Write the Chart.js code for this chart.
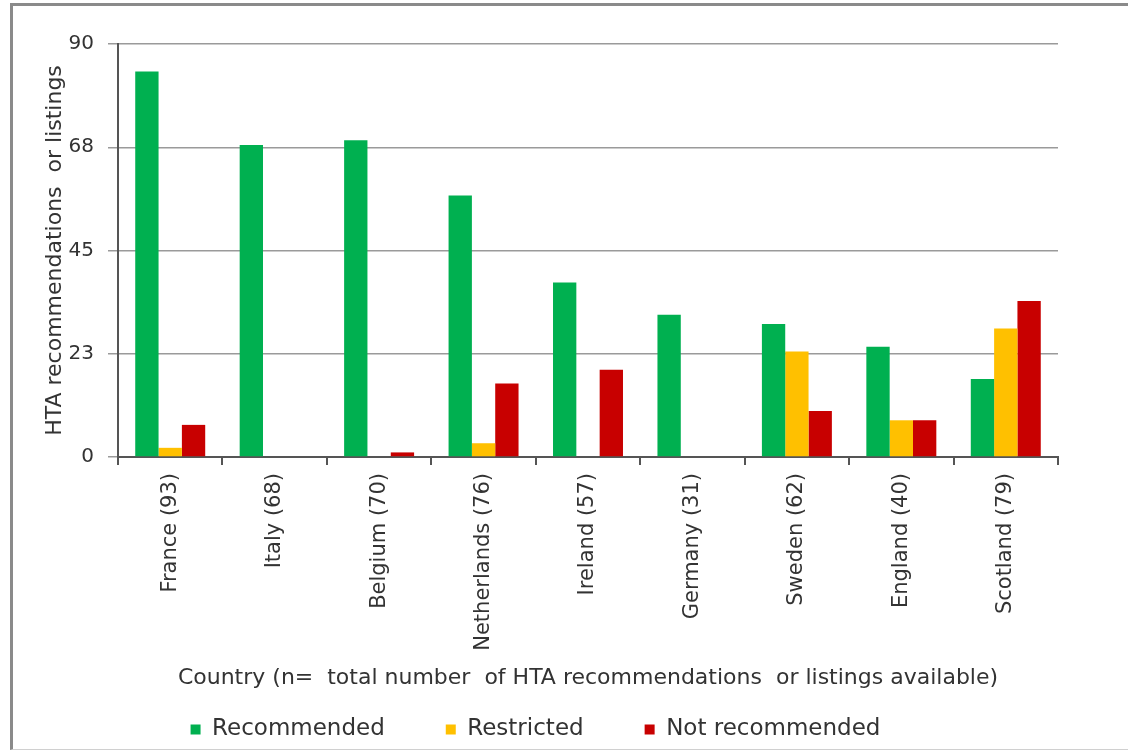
<!DOCTYPE html>
<html>
<head>
<meta charset="utf-8">
<script src="https://cdn.jsdelivr.net/npm/chart.js@4"></script>
<style>
  body { margin: 0; background: #fff; overflow: hidden; }
  #frame {
    position: absolute; left: 10px; top: 3px;
    width: 1118px; height: 743px;
    border-top: 3px solid #8a8a8a; border-left: 3px solid #8a8a8a;
    border-bottom: 1px solid #d0d0d0; background: #fff;
  }
</style>
</head>
<body>
<div id="frame"><canvas id="chart" width="1115" height="743"></canvas></div>
<script>
// Data
const countries = ['France (93)', 'Italy (68)', 'Belgium (70)', 'Netherlands (76)', 'Ireland (57)',
                   'Germany (31)', 'Sweden (62)', 'England (40)', 'Scotland (79)'];
const recommended = [84, 68, 69, 57, 38, 31, 29, 24, 17];
const restricted = [2, 0, 0, 3, 0, 0, 23, 8, 28];
const notRecommended = [7, 0, 1, 16, 19, 0, 10, 8, 34];
const yTicks = [0, 22.5, 45, 67.5, 90];

const font = '"DejaVu Sans", Verdana, sans-serif';

new Chart(document.getElementById('chart'), {
    type: 'bar',
    data: {
        labels: countries,
        datasets: [
            { label: 'Recommended', data: recommended, backgroundColor: '#00b050' },
            { label: 'Restricted', data: restricted, backgroundColor: '#ffc000' },
            { label: 'Not recommended', data: notRecommended, backgroundColor: '#c80000' }
        ]
    },
    options: {
        responsive: false,
        animation: false,
        layout: { padding: { top: 38, right: 70, left: 0, bottom: 6 } },
        datasets: {
            bar: { categoryPercentage: 0.67, barPercentage: 1.0 }
        },
        scales: {
            x: {
                grid: { offset: true, drawOnChartArea: false, tickLength: 8, color: '#555', lineWidth: 2 },
                border: { color: '#555', width: 2 },
                ticks: {
                    font: { family: font, size: 21 }, color: '#333',
                    minRotation: 90, maxRotation: 90, padding: 8, autoSkip: false
                },
                title: {
                    display: true,
                    text: 'Country (n=  total number  of HTA recommendations  or listings available)',
                    font: { family: font, size: 22 }, color: '#333', padding: { top: 0, bottom: -34 }
                },
                // room below the axis is shared with the legend
                afterFit: scale => { scale.height = 200; }
            },
            y: {
                min: 0, max: 90,
                afterBuildTicks: scale => { scale.ticks = yTicks.map(v => ({ value: v })); },
                grid: { color: '#9a9a9a', lineWidth: 1.5, tickLength: 10 },
                border: { color: '#555', width: 2 },
                ticks: {
                    font: { family: font, size: 20 }, color: '#333', padding: 14,
                    callback: v => Math.round(v)
                },
                title: {
                    display: true,
                    text: 'HTA recommendations  or listings',
                    font: { family: font, size: 22 }, color: '#333', padding: { top: 29, bottom: 0 }
                },
                afterFit: scale => { scale.width = 105; }
            }
        },
        plugins: {
            legend: {
                position: 'bottom',
                maxHeight: 86,
                labels: {
                    font: { family: font, size: 23 }, color: '#333',
                    boxWidth: 10, boxHeight: 10, padding: 61
                }
            },
            tooltip: { enabled: false }
        }
    }
});
</script>
</body>
</html>
